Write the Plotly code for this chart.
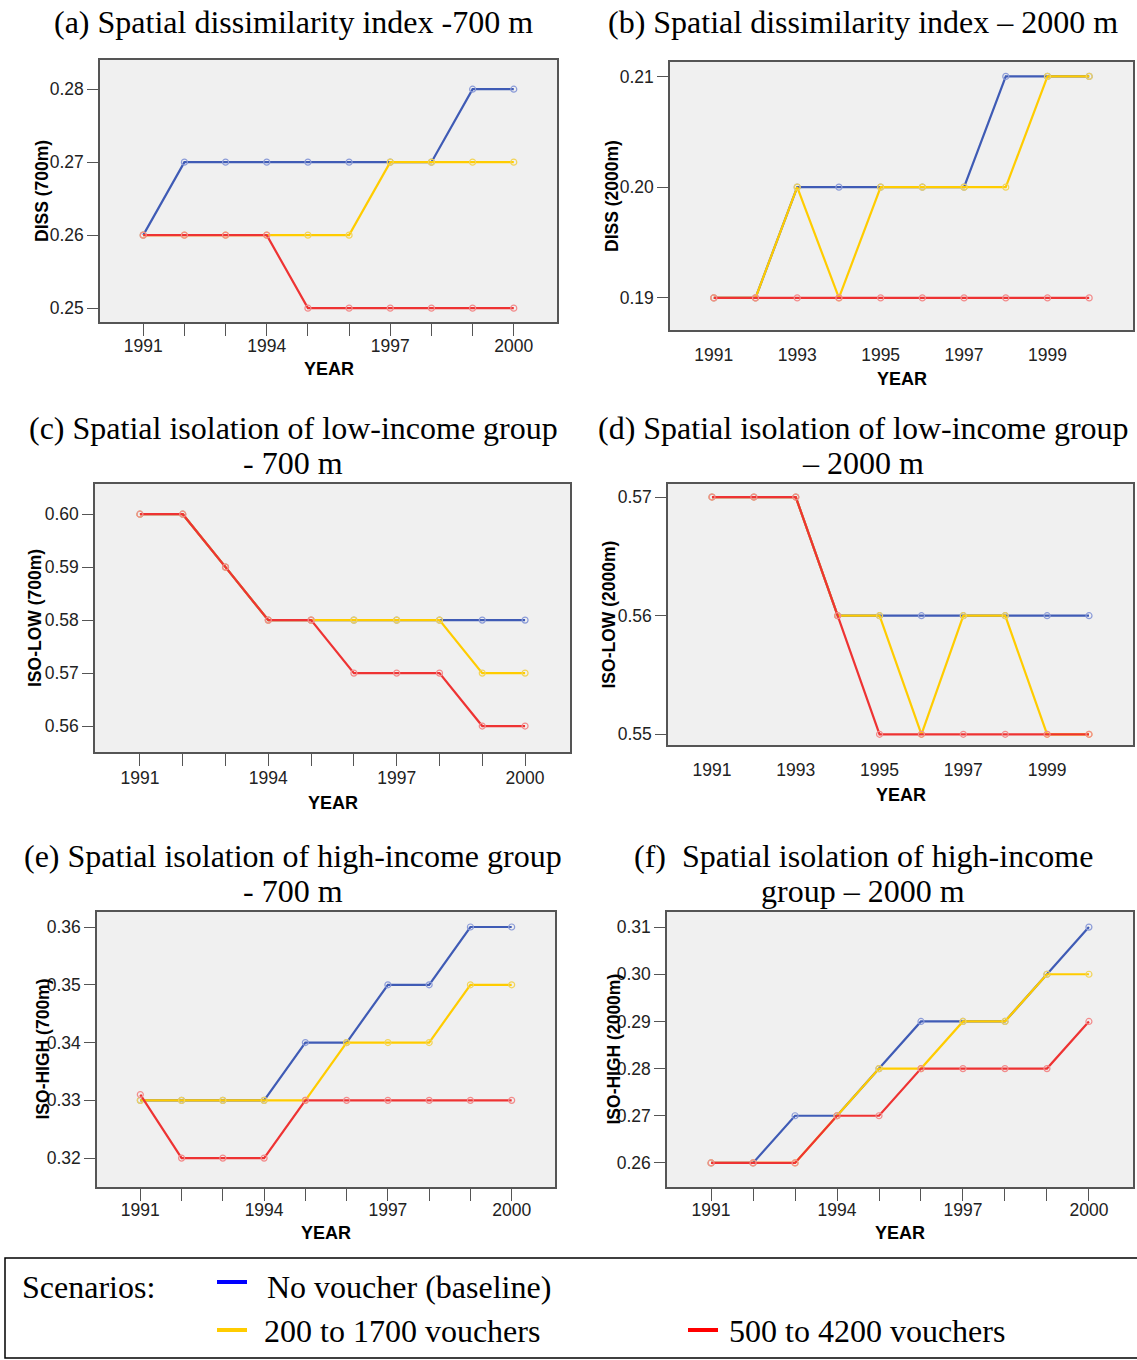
import plotly.graph_objects as go

W, H = 1137, 1360
years = list(range(1991, 2001))

# (a) DISS 700 m
diss700_base = [0.26, 0.27, 0.27, 0.27, 0.27, 0.27, 0.27, 0.27, 0.28, 0.28]
diss700_low = [0.26, 0.26, 0.26, 0.26, 0.26, 0.26, 0.27, 0.27, 0.27, 0.27]
diss700_high = [0.26, 0.26, 0.26, 0.26, 0.25, 0.25, 0.25, 0.25, 0.25, 0.25]
# (b) DISS 2000 m
diss2000_base = [0.19, 0.19, 0.20, 0.20, 0.20, 0.20, 0.20, 0.21, 0.21, 0.21]
diss2000_low = [0.19, 0.19, 0.20, 0.19, 0.20, 0.20, 0.20, 0.20, 0.21, 0.21]
diss2000_high = [0.19, 0.19, 0.19, 0.19, 0.19, 0.19, 0.19, 0.19, 0.19, 0.19]
# (c) ISO-LOW 700 m
isolow700_base = [0.60, 0.60, 0.59, 0.58, 0.58, 0.58, 0.58, 0.58, 0.58, 0.58]
isolow700_low = [0.60, 0.60, 0.59, 0.58, 0.58, 0.58, 0.58, 0.58, 0.57, 0.57]
isolow700_high = [0.60, 0.60, 0.59, 0.58, 0.58, 0.57, 0.57, 0.57, 0.56, 0.56]
# (d) ISO-LOW 2000 m
isolow2000_base = [0.57, 0.57, 0.57, 0.56, 0.56, 0.56, 0.56, 0.56, 0.56, 0.56]
isolow2000_low = [0.57, 0.57, 0.57, 0.56, 0.56, 0.55, 0.56, 0.56, 0.55, 0.55]
isolow2000_high = [0.57, 0.57, 0.57, 0.56, 0.55, 0.55, 0.55, 0.55, 0.55, 0.55]
# (e) ISO-HIGH 700 m
isohigh700_base = [0.33, 0.33, 0.33, 0.33, 0.34, 0.34, 0.35, 0.35, 0.36, 0.36]
isohigh700_low = [0.33, 0.33, 0.33, 0.33, 0.33, 0.34, 0.34, 0.34, 0.35, 0.35]
isohigh700_high = [0.331, 0.32, 0.32, 0.32, 0.33, 0.33, 0.33, 0.33, 0.33, 0.33]
# (f) ISO-HIGH 2000 m
isohigh2000_base = [0.26, 0.26, 0.27, 0.27, 0.28, 0.29, 0.29, 0.29, 0.30, 0.31]
isohigh2000_low = [0.26, 0.26, 0.26, 0.27, 0.28, 0.28, 0.29, 0.29, 0.30, 0.30]
isohigh2000_high = [0.26, 0.26, 0.26, 0.27, 0.27, 0.28, 0.28, 0.28, 0.28, 0.29]

titles = [
    ["(a) Spatial dissimilarity index -700 m"],
    ["(b) Spatial dissimilarity index \u2013 2000 m"],
    ["(c) Spatial isolation of low-income group", "- 700 m"],
    ["(d) Spatial isolation of low-income group", "\u2013 2000 m"],
    ["(e) Spatial isolation of high-income group", "- 700 m"],
    ["(f)\u00a0 Spatial isolation of high-income", "group \u2013 2000 m"],
]
ylabels = ["DISS (700m)", "DISS (2000m)", "ISO-LOW (700m)", "ISO-LOW (2000m)",
           "ISO-HIGH (700m)", "ISO-HIGH (2000m)"]
yticks = [
    [0.25, 0.26, 0.27, 0.28],
    [0.19, 0.20, 0.21],
    [0.56, 0.57, 0.58, 0.59, 0.60],
    [0.55, 0.56, 0.57],
    [0.32, 0.33, 0.34, 0.35, 0.36],
    [0.26, 0.27, 0.28, 0.29, 0.30, 0.31],
]
yranges = [
    [0.2481, 0.2840],
    [0.1871, 0.2113],
    [0.5551, 0.6057],
    [0.5491, 0.5711],
    [0.3150, 0.3626],
    [0.2549, 0.3132],
]
series = [
    (diss700_base, diss700_low, diss700_high),
    (diss2000_base, diss2000_low, diss2000_high),
    (isolow700_base, isolow700_low, isolow700_high),
    (isolow2000_base, isolow2000_low, isolow2000_high),
    (isohigh700_base, isohigh700_low, isohigh700_high),
    (isohigh2000_base, isohigh2000_low, isohigh2000_high),
]
every3 = [True, False, True, False, True, True]

# pixel boxes (left, right, top, bottom)
boxes = [
    (100, 557, 60, 322),
    (670, 1133, 62, 330),
    (95, 570, 484, 752),
    (668, 1133, 484, 745),
    (97, 555, 912, 1187),
    (667, 1133, 912, 1187),
]
title_pos = [(293, [22]), (863, [22]), (293, [428, 463]), (863, [428, 463]),
             (293, [856, 891]), (863, [856, 891])]
ytitle_x = [42, 612, 35, 609, 42, 613]
year_y = [369, 379, 803, 795, 1233, 1233]
xlab_shift = [-5, -6, -3, -6, -6, -6]

line_cols = ["#3F5BB5", "#FFCC00", "#EE3333"]
mark_cols = ["#8C9CD8", "#F2D45A", "#F28C8C"]

SANS = "Liberation Sans, Arial, sans-serif"
SERIF = "Liberation Serif, Times New Roman, serif"

fig = go.Figure()
annotations = []
shapes = []
layout = {}
for i in range(6):
    ax = "" if i == 0 else str(i + 1)
    l, r, t, b = boxes[i]
    for s, ys in enumerate(series[i]):
        fig.add_trace(go.Scatter(
            x=years, y=ys, mode="lines+markers", xaxis="x" + ax, yaxis="y" + ax,
            line=dict(color=line_cols[s], width=2.2),
            marker=dict(symbol="circle-open", size=6, color=mark_cols[s], line=dict(width=1.2)),
            showlegend=False, hoverinfo="skip"))
    if every3[i]:
        xt = dict(tickvals=years,
                  ticktext=[str(y) if (y - 1991) % 3 == 0 else "" for y in years],
                  ticks="outside", ticklen=12, tickcolor="#555555", tickwidth=1.3)
    else:
        xt = dict(tickvals=years[::2], ticktext=[str(y) for y in years[::2]],
                  ticks="outside", ticklen=14, tickcolor="rgba(0,0,0,0)")
    layout["xaxis" + ax] = dict(
        domain=[l / W, r / W], anchor="y" + ax, range=[1989.95, 2001.05],
        showgrid=False, zeroline=False, showline=True, mirror=True,
        linecolor="#555555", linewidth=1.5, ticklabelstandoff=xlab_shift[i],
        tickfont=dict(family=SANS, size=17.5, color="#222"), **xt)
    layout["yaxis" + ax] = dict(
        domain=[(H - b) / H, (H - t) / H], anchor="x" + ax, range=yranges[i],
        tickvals=yticks[i], tickformat=".2f", ticks="outside", ticklen=11,
        tickcolor="#555555", tickwidth=1.3, showgrid=False, zeroline=False,
        showline=True, mirror=True, linecolor="#555555", linewidth=1.5,
        tickfont=dict(family=SANS, size=17.5, color="#222"))
    shapes.append(dict(type="rect", xref="paper", yref="paper", layer="below",
                       x0=l / W, x1=r / W, y0=(H - b) / H, y1=(H - t) / H,
                       fillcolor="#F0F0F0", line=dict(width=0)))
    tx, tys = title_pos[i]
    for line_txt, ty in zip(titles[i], tys):
        annotations.append(dict(x=tx / W, y=(H - ty) / H, xref="paper", yref="paper",
                                text=line_txt, showarrow=False, xanchor="center", yanchor="middle",
                                font=dict(family=SERIF, size=32, color="black")))
    annotations.append(dict(x=ytitle_x[i] / W, y=(H - (t + b) / 2) / H, xref="paper", yref="paper",
                            text="<b>" + ylabels[i] + "</b>", textangle=-90, showarrow=False,
                            xanchor="center", yanchor="middle",
                            font=dict(family=SANS, size=17.5, color="black")))
    annotations.append(dict(x=((l + r) / 2) / W, y=(H - year_y[i]) / H, xref="paper", yref="paper",
                            text="<b>YEAR</b>", showarrow=False, xanchor="center", yanchor="middle",
                            font=dict(family=SANS, size=18, color="black")))

# legend box
shapes.append(dict(type="rect", xref="paper", yref="paper", x0=5 / W, x1=1145 / W,
                   y0=(H - 1358) / H, y1=(H - 1258) / H, line=dict(color="black", width=1.5)))
leg_items = [
    ("No voucher (baseline)", "#0000FF", 217, 1282, 265, 1287),
    ("200 to 1700 vouchers", "#FFCC00", 217, 1330, 262, 1331),
    ("500 to 4200 vouchers", "#FF0000", 688, 1330, 727, 1331),
]
for txt, col, lx, ly, tx, ty in leg_items:
    shapes.append(dict(type="line", xref="paper", yref="paper", x0=lx / W, x1=(lx + 30) / W,
                       y0=(H - ly) / H, y1=(H - ly) / H, line=dict(color=col, width=4)))
    annotations.append(dict(x=tx / W, y=(H - ty) / H, xref="paper", yref="paper", text=txt,
                            showarrow=False, xanchor="left", yanchor="middle",
                            font=dict(family=SERIF, size=32, color="black")))
annotations.append(dict(x=20 / W, y=(H - 1287) / H, xref="paper", yref="paper", text="Scenarios:",
                        showarrow=False, xanchor="left", yanchor="middle",
                        font=dict(family=SERIF, size=32, color="black")))

fig.update_layout(width=W, height=H, margin=dict(l=0, r=0, t=0, b=0),
                  paper_bgcolor="white", plot_bgcolor="rgba(0,0,0,0)",
                  shapes=shapes, annotations=annotations, **layout)
fig.write_html("out.html", config={"displayModeBar": False},
               post_script="document.body.style.margin='0';")
